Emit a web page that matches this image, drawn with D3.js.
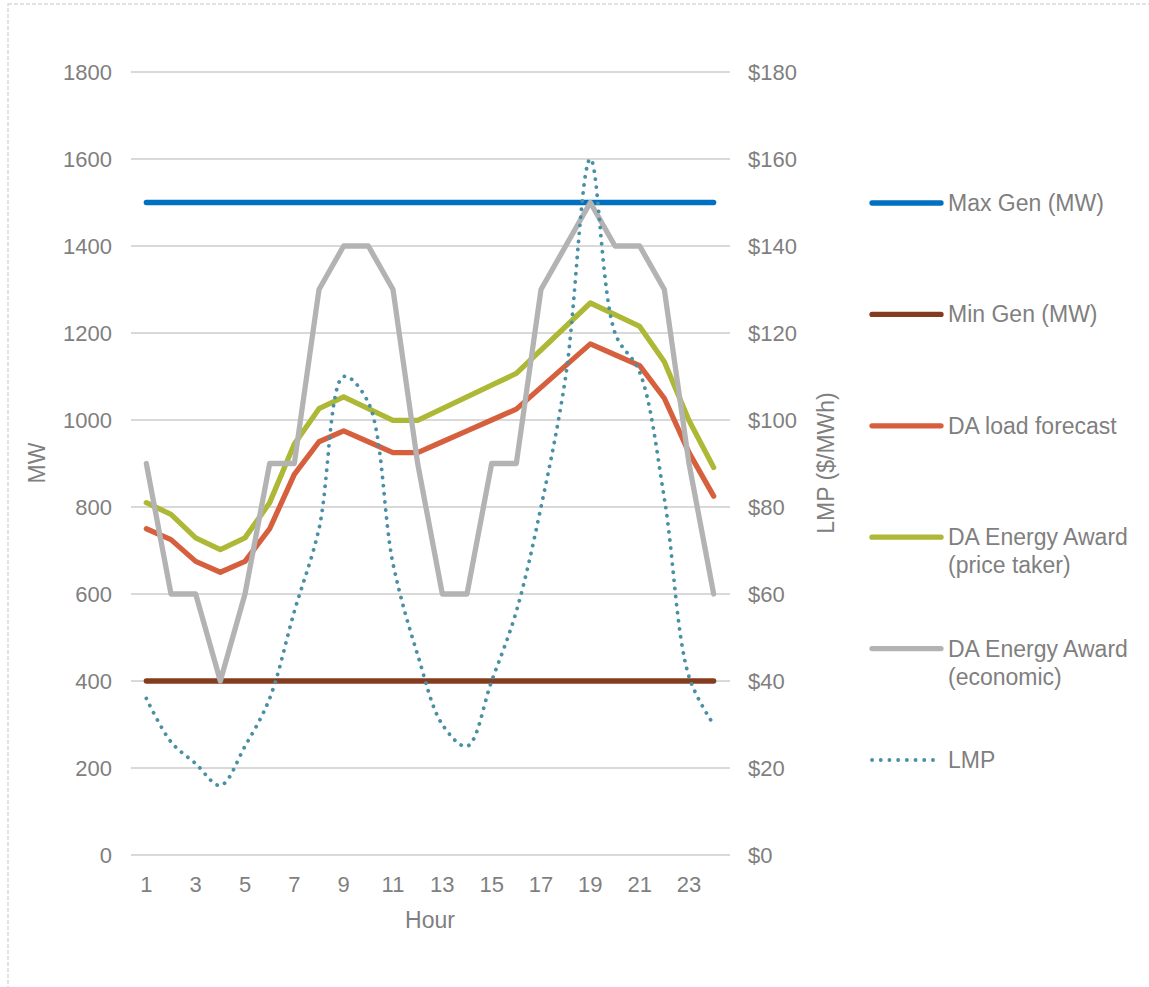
<!DOCTYPE html>
<html>
<head>
<meta charset="utf-8">
<script src="https://d3js.org/d3.v7.min.js"></script>
<style>
  body { margin: 0; background: #fff; }
  text { font-family: "Liberation Sans", Arial, sans-serif; fill: #7f7f7f; }
</style>
</head>
<body>
<div id="chart"></div>
<script>

// hours of the day
var hours = [1,2,3,4,5,6,7,8,9,10,11,12,13,14,15,16,17,18,19,20,21,22,23,24];

// MW series
var maxGen   = [1500,1500,1500,1500,1500,1500,1500,1500,1500,1500,1500,1500,1500,1500,1500,1500,1500,1500,1500,1500,1500,1500,1500,1500];
var minGen   = [400,400,400,400,400,400,400,400,400,400,400,400,400,400,400,400,400,400,400,400,400,400,400,400];
var loadFcst = [750,725,675,650,675,750,875,950,975,950,925,925,950,975,1000,1025,1075,1125,1175,1150,1125,1050,925,825];
var awardTaker = [810,783,729,702,729,810,945,1026,1053,1026,999,999,1026,1053,1080,1107,1161,1215,1269,1242,1215,1134,999,891];
var awardEcon  = [900,600,600,400,600,900,900,1300,1400,1400,1300,900,600,600,900,900,1300,1400,1500,1400,1400,1300,900,600];

// LMP in $/MWh (right axis)
var lmp = [36,26,21,16,25,36,56,75,110,104,67,46,30,25,40,56,80,110,160,120,111,82,41,30];

// axis ticks
var mwTicks  = [0,200,400,600,800,1000,1200,1400,1600,1800];
var lmpTicks = [0,20,40,60,80,100,120,140,160,180];
var hourTicks = [1,3,5,7,9,11,13,15,17,19,21,23];

var series = [
  {name: ["Max Gen (MW)"], values: maxGen, color: "#0070C0", axis: "left"},
  {name: ["Min Gen (MW)"], values: minGen, color: "#843C1F", axis: "left"},
  {name: ["DA load forecast"], values: loadFcst, color: "#D6603D", axis: "left"},
  {name: ["DA Energy Award", "(price taker)"], values: awardTaker, color: "#ADB836", axis: "left"},
  {name: ["DA Energy Award", "(economic)"], values: awardEcon, color: "#B3B3B3", axis: "left"},
  {name: ["LMP"], values: lmp, color: "#4A90A4", axis: "right"}
];

var W = 1149, H = 987;
var svg = d3.select("#chart").append("svg")
  .attr("width", W).attr("height", H);

svg.append("rect").attr("width", W).attr("height", H).attr("fill", "#fff");

// dashed frame of the chart area
svg.append("rect")
  .attr("x", 8).attr("y", 4)
  .attr("width", W + 20).attr("height", H + 20)
  .attr("fill", "none")
  .attr("stroke", "#d9d9d9")
  .attr("stroke-width", 1.5)
  .attr("stroke-dasharray", "4,2");

var plot = {left: 134, right: 726, top: 72, bottom: 855};

var x = d3.scaleBand()
  .domain(hours)
  .range([plot.left, plot.right]);
var xc = function(h) { return x(h) + x.bandwidth() / 2; };

var yL = d3.scaleLinear().domain([0, 1800]).range([plot.bottom, plot.top]);
var yR = d3.scaleLinear().domain([0, 180]).range([plot.bottom, plot.top]);

// gridlines
svg.append("g")
  .selectAll("line")
  .data(mwTicks)
  .enter().append("line")
    .attr("x1", plot.left - 3).attr("x2", plot.right + 4)
    .attr("y1", function(d) { return yL(d); })
    .attr("y2", function(d) { return yL(d); })
    .attr("stroke", "#d9d9d9")
    .attr("stroke-width", 2);

var fs = "22px";

// left axis
var gl = svg.append("g")
  .attr("transform", "translate(" + plot.left + ",0)")
  .call(d3.axisLeft(yL).tickValues(mwTicks).tickSize(0).tickPadding(22).tickFormat(d3.format("d")));

// right axis
var gr = svg.append("g")
  .attr("transform", "translate(" + plot.right + ",0)")
  .call(d3.axisRight(yR).tickValues(lmpTicks).tickSize(0).tickPadding(22).tickFormat(function(d) { return "$" + d; }));

// bottom axis
var gb = svg.append("g")
  .attr("transform", "translate(0," + plot.bottom + ")")
  .call(d3.axisBottom(x).tickValues(hourTicks).tickSize(0).tickPadding(21));

[gl, gr, gb].forEach(function(g) {
  g.select(".domain").remove();
  g.selectAll("text")
    .style("font-size", fs)
    .style("font-family", "'Liberation Sans', Arial, sans-serif")
    .attr("fill", "#7f7f7f");
});

// axis titles
svg.append("text")
  .attr("transform", "translate(45,463) rotate(-90)")
  .attr("text-anchor", "middle")
  .style("font-size", "23px")
  .text("MW");

svg.append("text")
  .attr("transform", "translate(834,463) rotate(-90)")
  .attr("text-anchor", "middle")
  .style("font-size", "23px")
  .text("LMP ($/MWh)");

svg.append("text")
  .attr("x", 430).attr("y", 928)
  .attr("text-anchor", "middle")
  .style("font-size", "23px")
  .text("Hour");

// lines
var lineL = d3.line()
  .x(function(d, i) { return xc(hours[i]); })
  .y(function(d) { return yL(d); });

var lineR = d3.line()
  .x(function(d, i) { return xc(hours[i]); })
  .y(function(d) { return yR(d); })
  .curve(d3.curveCatmullRom);

series.forEach(function(s) {
  var p = svg.append("path")
    .datum(s.values)
    .attr("fill", "none")
    .attr("stroke", s.color)
    .attr("stroke-linecap", "round")
    .attr("stroke-linejoin", "round");
  if (s.axis == "right") {
    p.attr("d", lineR)
      .attr("stroke-width", 3.8)
      .attr("stroke-dasharray", "0.1,8");
  } else {
    p.attr("d", lineL)
      .attr("stroke-width", 5.3);
  }
});

// legend
var legend = svg.append("g");
series.forEach(function(s, i) {
  var ly = 203 + i * 111.4;
  var ln = legend.append("line")
    .attr("x1", 872).attr("x2", 941)
    .attr("y1", ly).attr("y2", ly)
    .attr("stroke", s.color)
    .attr("stroke-linecap", "round");
  if (s.axis == "right") {
    ln.attr("stroke-width", 3.8).attr("stroke-dasharray", "0.1,8.6");
  } else {
    ln.attr("stroke-width", 5.3);
  }
  var t = legend.append("text")
    .attr("x", 948).attr("y", ly + 8)
    .style("font-size", "23px");
  s.name.forEach(function(n, j) {
    t.append("tspan").attr("x", 948).attr("dy", j == 0 ? 0 : 28).text(n);
  });
});

</script>
</body>
</html>
